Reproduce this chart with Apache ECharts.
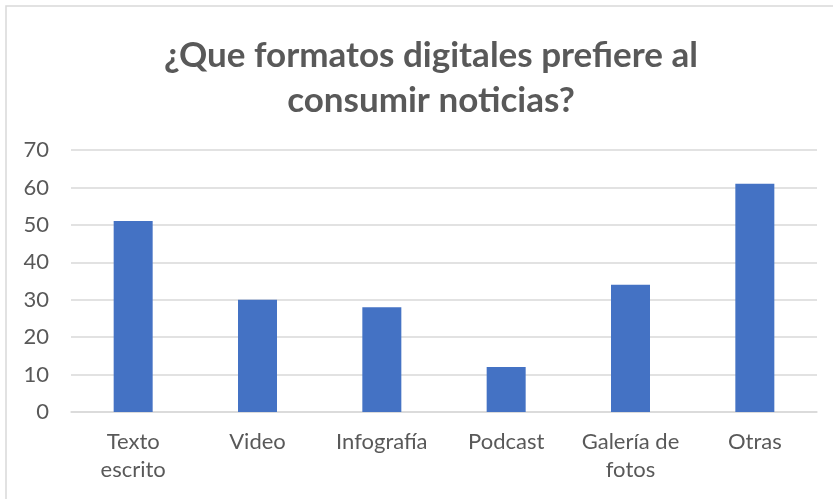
<!DOCTYPE html>
<html>
<head>
<meta charset="utf-8">
<script src="https://cdn.jsdelivr.net/npm/echarts@6/dist/echarts.min.js"></script>
<style>
  html, body { margin: 0; padding: 0; background: #fff; }
  #chart { width: 833px; height: 499px; }
</style>
</head>
<body>
<div id="chart"></div>
<script>
// datos del grafico
const titleText = '¿Que formatos digitales prefiere al\nconsumir noticias?'
const categories = ['Texto\nescrito', 'Video', 'Infografía', 'Podcast', 'Galería de\nfotos', 'Otras']
const values = [51, 30, 28, 12, 34, 61]
const yTicks = { min: 0, max: 70, interval: 10 }

const chart = echarts.init(document.getElementById('chart'))
chart.setOption({
  animation: false,
  textStyle: { fontFamily: 'Lato, "Open Sans", sans-serif' },
  graphic: [{
    type: 'rect',
    shape: { x: 6, y: 6, width: 900, height: 600 },
    style: { fill: 'none', stroke: '#d9d9d9', lineWidth: 1.5 },
    silent: true
  }],
  title: {
    text: titleText,
    left: 426,
    textAlign: 'center',
    top: 28,
    textStyle: {
      fontSize: 35,
      fontWeight: 'bold',
      color: '#595959',
      lineHeight: 45
    }
  },
  grid: {
    left: 71,
    right: 16,
    top: 150,
    bottom: 87
  },
  xAxis: {
    type: 'category',
    data: categories,
    axisTick: { show: false },
    axisLine: { lineStyle: { color: '#d9d9d9', width: 1.5 } },
    axisLabel: {
      color: '#595959',
      fontSize: 22,
      lineHeight: 28,
      margin: 16,
      interval: 0
    }
  },
  yAxis: {
    type: 'value',
    min: yTicks.min,
    max: yTicks.max,
    interval: yTicks.interval,
    axisLine: { show: false },
    axisTick: { show: false },
    splitLine: { lineStyle: { color: '#d9d9d9', width: 1.5 } },
    axisLabel: {
      color: '#595959',
      fontSize: 22,
      margin: 22
    }
  },
  series: [{
    type: 'bar',
    data: values,
    barWidth: 39,
    itemStyle: { color: '#4472c4' }
  }]
})
</script>
</body>
</html>
